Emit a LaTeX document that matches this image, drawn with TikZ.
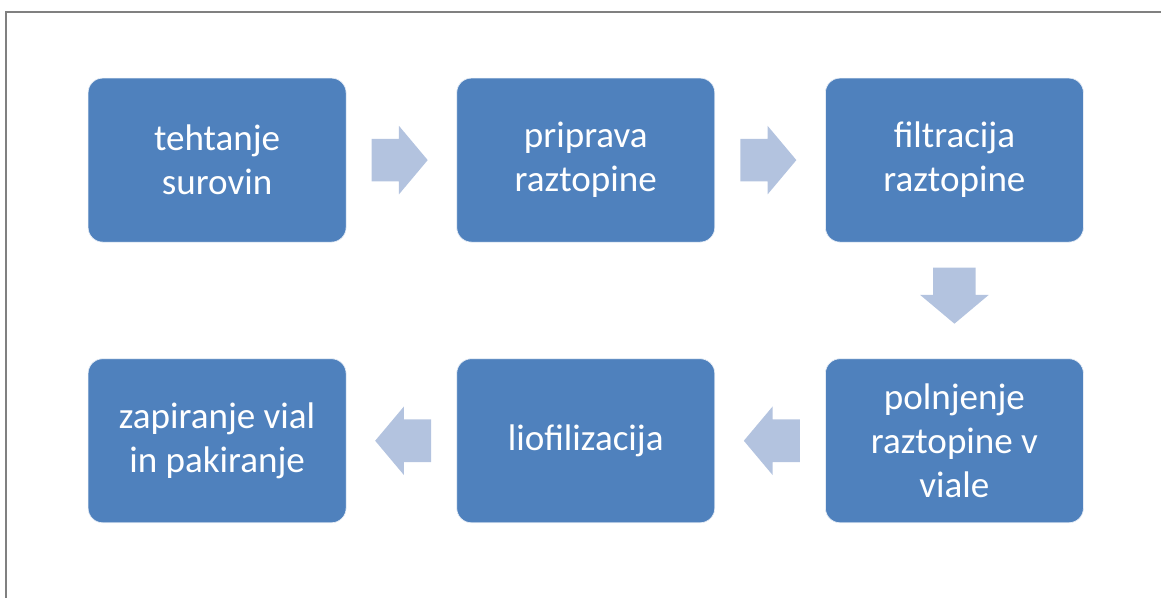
\documentclass[tikz,border=0pt]{standalone}
\usepackage{fontspec}
\setmainfont{Carlito}
\usepackage{tikz}
\usetikzlibrary{matrix, positioning, calc, shapes.arrows}
\definecolor{boxblue}{HTML}{4F81BD}
\definecolor{arrowblue}{HTML}{B3C3DF}
\definecolor{framegray}{HTML}{808080}
\tikzset{% styles for the flow
	stepbox/.style={shape=rectangle, rounded corners=11pt, fill=boxblue,
		draw=white!85!boxblue, line width=0.5pt, text=white,
		minimum width=193.5pt, minimum height=123pt, align=center,
		font=\fontsize{27.8}{33}\selectfont},
	flowarrow/.style={shape=single arrow, fill=arrowblue, draw=none,
		minimum height=42pt, anchor=tail,
		single arrow head extend=9.75pt, single arrow tip angle=100,
		single arrow head indent=0pt},
	rightarrow/.style={flowarrow, inner xsep=0pt, inner ysep=15.75pt},
	downarrow/.style={flowarrow, inner xsep=15.75pt, inner ysep=0pt,
		shape border rotate=270},
	leftarrow/.style={flowarrow, inner xsep=0pt, inner ysep=15.75pt,
		shape border rotate=180},
	frameline/.style={framegray, line width=1.5pt},
}
\begin{document}
\begin{tikzpicture}[x=0.75pt, y=-0.75pt]
	\useasboundingbox (0,0) rectangle (1161,598);
	\draw[frameline] (5.5,598) -- (5.5,12) -- (1161,12);
	\matrix[%
	inner sep=0pt, anchor=north west,
	column sep=82.5pt, row sep=87pt,
	] (s) at (87.5,77.5) {%
		\node[stepbox] (weigh) {tehtanje\\ surovin}; &
		\node[stepbox] (prep) {priprava\\ raztopine}; &
		\node[stepbox] (filt) {filtracija\\ raztopine}; \\
		\node[stepbox] (close) {zapiranje vial\\ in pakiranje}; &
		\node[stepbox] (lyo) {liofilizacija}; &
		\node[stepbox] (fill) {polnjenje\\ raztopine v\\ viale}; \\
	};
	% arrows between the steps
	\node[rightarrow] (weigh-prep) at ($(weigh.east)+(25,0)$) {};
	\node[rightarrow] (prep-filt) at ($(prep.east)+(25,0)$) {};
	\node[downarrow] (filt-fill) at ($(filt.south)+(0,25)$) {};
	\node[leftarrow] (fill-lyo) at ($(fill.west)+(-25,0)$) {};
	\node[leftarrow] (lyo-close) at ($(lyo.west)+(-25,0)$) {};
\end{tikzpicture}
\end{document}
